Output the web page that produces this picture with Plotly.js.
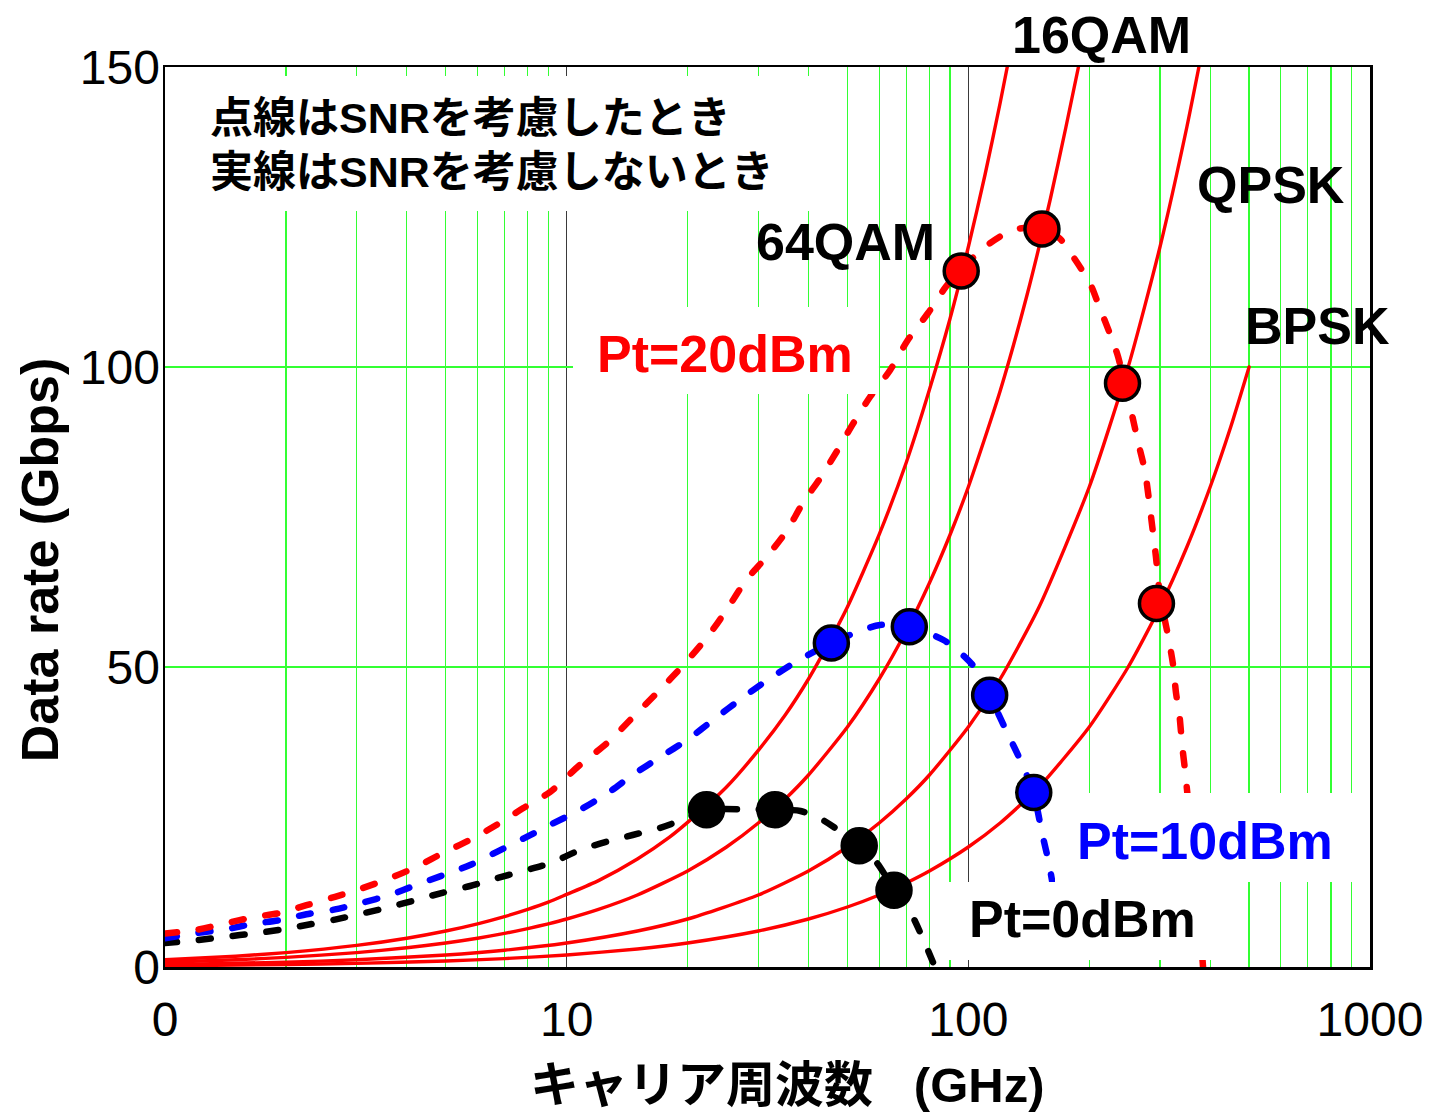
<!DOCTYPE html>
<html>
<head>
<meta charset="utf-8">
<script src="https://cdn.plot.ly/plotly-3.0.1.min.js"></script>
<style>
  html, body { margin: 0; padding: 0; background: #ffffff; }
  #chart { width: 1432px; height: 1114px; }
</style>
</head>
<body>
<div id="chart"></div>
<script>
// ---- Data rate without SNR limit (solid lines), per modulation ----
const f64qam = [1, 1.5, 2, 3, 4, 5, 6, 7, 8, 9, 10, 12, 15, 18, 20, 25, 30, 35, 40, 45, 50, 60, 70, 80, 90, 100, 110, 120, 125];
const r64qam = [1.2, 1.8, 2.4, 3.6, 4.8, 6.0, 7.2, 8.4, 9.6, 10.8, 12.1, 14.4, 18.0, 21.6, 24.1, 30.0, 36.1, 42.0, 48.0, 54.1, 60.0, 72.1, 84.0, 96.2, 108, 120, 132, 144, 150];

const f16qam = [1, 1.5, 2, 3, 4, 5, 6, 7, 8, 9, 10, 12, 15, 20, 25, 30, 35, 40, 50, 60, 70, 80, 90, 100, 120, 140, 160, 175, 188];
const r16qam = [0.8, 1.2, 1.6, 2.4, 3.2, 4.0, 4.8, 5.6, 6.4, 7.2, 8.0, 9.6, 12.0, 16.0, 20.0, 24.0, 28.0, 32.0, 40.0, 48.0, 56.0, 64.0, 72.0, 80.0, 96.0, 112, 128, 140, 150];

const fQpsk = [1, 2, 3, 5, 7, 10, 15, 20, 30, 40, 50, 60, 70, 80, 100, 120, 150, 200, 250, 300, 350, 375];
const rQpsk = [0.4, 0.8, 1.2, 2.0, 2.8, 4.0, 6.0, 8.0, 12.0, 16.0, 20.0, 24.0, 28.0, 32.0, 40.0, 48.0, 60.0, 80.0, 100, 120, 140, 150];

const fBpsk = [1, 2, 3, 5, 7, 10, 15, 20, 30, 40, 50, 60, 70, 80, 100, 120, 150, 200, 250, 300, 350, 400, 450, 500];
const rBpsk = [0.2, 0.4, 0.6, 1.0, 1.4, 2.0, 3.0, 4.0, 6.0, 8.0, 10.0, 12.0, 14.0, 16.0, 20.0, 24.0, 30.0, 40.0, 50.0, 60.0, 70.0, 80.0, 90.0, 100];

// ---- Data rate with SNR limit (dashed lines), per transmit power ----
const fPt20 = [1.0, 1.2, 1.42, 1.66, 1.93, 2.25, 2.65, 3.09, 3.63, 4.23, 4.92, 5.75, 6.7, 7.8, 9.1, 10.8, 12.6, 14.5, 16.9, 19.5, 22.4, 25, 28, 31.5, 35.4, 38.7, 43, 47.5, 51.7, 56.9, 63.9, 70.7, 79.4, 88, 96.5, 113, 129, 152.5, 169, 184, 201, 212, 225, 236, 244, 254, 265, 275, 281, 287, 293, 300, 314, 323, 329, 335, 341, 347, 352, 365, 378, 384];
const rPt20 = [5.6, 6.2, 7.3, 8.3, 9.0, 10.3, 11.7, 13.1, 14.8, 16.7, 19.0, 21.2, 23.7, 26.5, 29.2, 33.7, 37.3, 41.4, 45.9, 50.3, 55.0, 59.5, 64.5, 68.4, 72.8, 77.3, 81.7, 86.4, 90.6, 95.0, 99.5, 104.5, 109, 113.4, 116.5, 120.6, 122.8, 123.2, 121.4, 118, 113.9, 110, 105.6, 101.7, 97.5, 92.8, 87.3, 82.8, 78.4, 73.4, 68.5, 62.0, 55.3, 50.6, 45.6, 42.3, 36.7, 32.3, 28.0, 16.0, 6.0, 0];

const fPt10 = [1.0, 1.21, 1.42, 1.66, 1.93, 2.25, 2.65, 3.09, 3.63, 4.23, 4.93, 5.75, 6.7, 7.8, 9.1, 10.8, 12.6, 14.6, 17.1, 19.9, 23.4, 27.3, 31.6, 37.3, 45.6, 52.8, 60.3, 71.3, 86.7, 94.7, 105, 113, 124, 133.6, 145.3, 152.6, 158.7, 168, 179];
const rPt10 = [4.8, 5.7, 6.3, 7.2, 7.8, 8.8, 9.6, 10.7, 12.0, 13.7, 15.3, 17.0, 19.2, 21.4, 23.7, 26.2, 28.9, 32.0, 35.0, 37.8, 41.4, 44.8, 47.8, 50.9, 54.0, 55.8, 57.0, 56.7, 54.5, 52.6, 49.5, 45.3, 39.5, 35.0, 29.0, 22.3, 17.3, 8.0, 0];

const fPt0 = [1.0, 1.21, 1.42, 1.66, 1.93, 2.25, 2.65, 3.09, 3.63, 4.23, 4.93, 5.75, 6.7, 7.8, 9.1, 10.8, 12.6, 14.6, 17.1, 19.9, 22.4, 27, 33, 38.2, 43.4, 53.5, 59.3, 65.5, 72, 77, 82.6];
const rPt0 = [4.0, 4.5, 5.05, 5.6, 6.2, 7.0, 7.9, 8.9, 10.0, 11.2, 12.4, 13.5, 14.8, 16.0, 17.3, 19.5, 20.9, 22.0, 23.2, 24.8, 26.2, 26.3, 26.2, 26.0, 24.5, 20.2, 17.3, 12.7, 8.9, 4.8, 0];

// ---- Crossing points (where each SNR curve meets a modulation line) ----
const fDot20 = [96, 152.5, 242, 294];
const rDot20 = [116, 123, 97.3, 60.6];
const fDot10 = [45.6, 71.3, 113, 145.5];
const rDot10 = [54, 56.7, 45.3, 29.1];
const fDot0 = [22.3, 33, 53.5, 65.3];
const rDot0 = [26.2, 26.2, 20.2, 12.8];

// ---- Axis ticks ----
const xTickVals = [1, 10, 100, 1000];
const xTickText = ['0', '10', '100', '1000'];
const yTickVals = [0, 50, 100, 150];
const yTickText = ['0', '50', '100', '150'];

const RED = '#ff0000', BLUE = '#0000ff', BLACK = '#000000';
const GRID_GREEN = '#33ff33';
const LATIN = 'Liberation Sans, Arial, sans-serif';
const MIXED = 'Liberation Sans, Noto Sans CJK JP, sans-serif';

function solid(x, y) {
  return { x: x, y: y, type: 'scatter', mode: 'lines',
           line: { color: RED, width: 3.4, shape: 'spline', smoothing: 0.6 },
           hoverinfo: 'skip' };
}
function dashed(x, y, color) {
  return { x: x, y: y, type: 'scatter', mode: 'lines',
           line: { color: color, width: 6.5, dash: '12px,22px', shape: 'spline', smoothing: 0.8 },
           hoverinfo: 'skip' };
}
function dots(x, y, color) {
  return { x: x, y: y, type: 'scatter', mode: 'markers',
           marker: { color: color, size: 34, line: { color: BLACK, width: 3.5 } },
           hoverinfo: 'skip' };
}

const traces = [
  solid(f64qam, r64qam),
  solid(f16qam, r16qam),
  solid(fQpsk, rQpsk),
  solid(fBpsk, rBpsk),
  dashed(fPt0, rPt0, BLACK),
  dashed(fPt10, rPt10, BLUE),
  dashed(fPt20, rPt20, RED),
  dots(fDot20, rDot20, RED),
  dots(fDot10, rDot10, BLUE),
  dots(fDot0, rDot0, BLACK)
];

function whiteBox(x0, x1, y0, y1) {
  return { type: 'rect', xref: 'paper', yref: 'paper', x0: x0, x1: x1, y0: y0, y1: y1,
           fillcolor: '#ffffff', line: { width: 0 }, layer: 'above' };
}

function label(text, x, y, color, size, anchor) {
  return { text: text, xref: 'paper', yref: 'paper', x: x, y: y,
           xanchor: anchor || 'center', yanchor: 'middle', showarrow: false,
           font: { family: MIXED, size: size, color: color, weight: 'bold' } };
}

const layout = {
  width: 1432, height: 1114,
  margin: { l: 165, r: 62, t: 67, b: 147, pad: 0 },
  paper_bgcolor: '#ffffff', plot_bgcolor: '#ffffff',
  showlegend: false,
  xaxis: {
    type: 'log', range: [0, 3],
    tickmode: 'array', tickvals: xTickVals, ticktext: xTickText,
    ticks: '', ticklabelstandoff: 9,
    tickfont: { family: LATIN, size: 48, color: BLACK },
    showgrid: true, gridcolor: '#3a3a3a', gridwidth: 1,
    minor: { dtick: 'D1', showgrid: true, gridcolor: GRID_GREEN, gridwidth: 1.2, ticks: '' },
    showline: true, linecolor: BLACK, linewidth: 2.5, mirror: true,
    zeroline: false
  },
  yaxis: {
    range: [0, 150],
    tickmode: 'array', tickvals: yTickVals, ticktext: yTickText,
    ticks: '', ticklabelstandoff: -7,
    tickfont: { family: LATIN, size: 48, color: BLACK },
    showgrid: true, gridcolor: GRID_GREEN, gridwidth: 1.2,
    showline: true, linecolor: BLACK, linewidth: 2.5, mirror: true,
    zeroline: false
  },
  shapes: [
    whiteBox(0.003, 0.552, 0.84, 0.99),
    whiteBox(0.3386, 0.5925, 0.6367, 0.7333),
    whiteBox(0.7386, 0.9934, 0.0944, 0.1933),
    whiteBox(0.6498, 0.8714, 0.0078, 0.0944)
  ],
  annotations: [
    label('点線はSNRを考慮したとき', 0.0357, 0.9433, BLACK, 43, 'left'),
    label('実線はSNRを考慮しないとき', 0.0357, 0.8833, BLACK, 43, 'left'),
    label('16QAM', 0.7768, 1.0356, BLACK, 52),
    label('QPSK', 0.9178, 0.8689, BLACK, 52),
    label('64QAM', 0.5651, 0.8056, BLACK, 52),
    label('BPSK', 0.9568, 0.7122, BLACK, 52),
    label('Pt=20dBm', 0.4647, 0.6811, RED, 52),
    label('Pt=10dBm', 0.8631, 0.14, BLUE, 52),
    label('Pt=0dBm', 0.7618, 0.0533, BLACK, 52),
    label('Data rate (Gbps)', -0.1037, 0.452, BLACK, 52),
    label('キャリア周波数\u00a0\u00a0\u00a0(GHz)', 0.516, -0.131, BLACK, 49)
  ]
};
layout.annotations[9].textangle = -90;

Plotly.newPlot('chart', traces, layout, { displayModeBar: false, staticPlot: true }).then(function (gd) {
  // rounded ends on the dashed SNR curves
  gd.querySelectorAll('.scatterlayer .js-line').forEach(function (p) {
    p.style.strokeLinecap = 'round';
  });
});
</script>
</body>
</html>
